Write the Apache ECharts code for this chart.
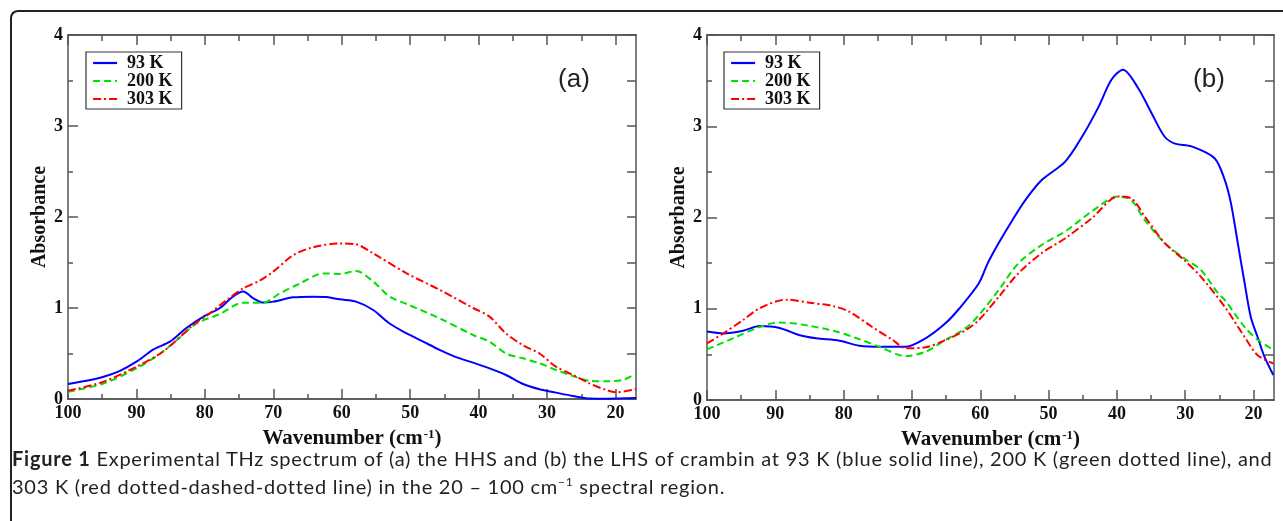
<!DOCTYPE html>
<html>
<head>
<meta charset="utf-8">
<script src="https://cdn.jsdelivr.net/npm/echarts@6/dist/echarts.min.js"></script>
<style>
  body { margin: 0; background: #fff; }
  #wrap { position: relative; width: 1283px; height: 521px; overflow: hidden; }
  #chart { position: absolute; left: 0; top: 0; width: 1283px; height: 521px; }
  #frame { position: absolute; left: 10px; top: 10px; width: 1400px; height: 700px;
           border-top: 2px solid #222; border-left: 2px solid #222; border-top-left-radius: 8px; }
  #caption { position: absolute; left: 12px; top: 444px; font-family: Lato, sans-serif; font-size: 20px;
             letter-spacing: 0.75px; line-height: 28px; color: #231f20; white-space: nowrap; }
  #caption b { font-weight: bold; }
  #caption sup { font-size: 12px; line-height: 0; vertical-align: 8px; }
</style>
</head>
<body>
<div id="wrap">
  <div id="frame"></div>
  <div id="chart"></div>
  <div id="caption"><b>Figure 1</b> Experimental THz spectrum of (a) the HHS and (b) the LHS of crambin at 93 K (blue solid line), 200 K (green dotted line), and<br>303 K (red dotted-dashed-dotted line) in the 20 &ndash; 100 cm<sup>&minus;1</sup> spectral region.</div>
</div>
<script>
// wavenumber (cm-1) and absorbance

// (a) HHS
let hhsWn93 = [100, 97.3, 94.8, 92.4, 90, 87.5, 85.1, 82.7, 80.2, 77.8, 75.9, 74.4, 72.9, 71.5, 70, 67.1, 64.2, 62.2, 60.3, 57.9, 55.4, 53.0, 50.5, 48.1, 45.7, 43.2, 40.8, 38.4, 36.0, 33.5, 31.1, 28.7, 26.2, 23.8, 21.4, 17];
let hhsAbs93 = [0.165, 0.20, 0.245, 0.31, 0.41, 0.545, 0.63, 0.78, 0.905, 1.0, 1.125, 1.18, 1.106, 1.06, 1.07, 1.117, 1.125, 1.12, 1.095, 1.07, 0.978, 0.83, 0.72, 0.63, 0.54, 0.457, 0.40, 0.337, 0.264, 0.165, 0.107, 0.07, 0.033, 0.005, 0.003, 0.01];

let hhsWn200 = [100, 94.8, 90, 86.5, 84.1, 81.2, 77.8, 74.4, 71.5, 69.1, 66.1, 62.7, 60.3, 57.9, 55.4, 53.0, 50.5, 45.7, 40.8, 38.4, 36.0, 33.5, 31.1, 28.7, 26.2, 23.8, 21.4, 18.9, 17];
let hhsAbs200 = [0.08, 0.17, 0.337, 0.50, 0.648, 0.83, 0.934, 1.058, 1.058, 1.16, 1.27, 1.38, 1.374, 1.407, 1.29, 1.125, 1.044, 0.887, 0.703, 0.63, 0.50, 0.447, 0.392, 0.319, 0.253, 0.20, 0.195, 0.209, 0.28];

let hhsWn303 = [100, 94.8, 90, 86.5, 84.1, 81.7, 79.3, 76.8, 74.4, 72, 70, 67.1, 64.2, 60.3, 57.9, 55.4, 50.5, 45.7, 40.8, 38.4, 36.0, 33.5, 31.1, 28.7, 26.2, 23.8, 21.4, 19.9, 17];
let hhsAbs303 = [0.09, 0.19, 0.355, 0.50, 0.648, 0.813, 0.94, 1.088, 1.216, 1.30, 1.40, 1.58, 1.667, 1.71, 1.70, 1.60, 1.38, 1.20, 1.0, 0.905, 0.72, 0.59, 0.50, 0.355, 0.264, 0.172, 0.10, 0.074, 0.107];

// (b) LHS
let lhsWn93 = [100, 97.6, 94.7, 92.3, 89.4, 86.4, 84, 80.6, 77.7, 74.3, 70.9, 68, 65.1, 63.1, 60.2, 58.9, 57.3, 55.3, 53.4, 51, 47.6, 45.1, 42.7, 40.8, 39.1, 36.9, 34.9, 33, 31.5, 29.1, 25.7, 24.2, 23.3, 22.3, 21.3, 20.4, 19.4, 18.4, 17.1];
let lhsAbs93 = [0.75, 0.73, 0.76, 0.81, 0.79, 0.71, 0.676, 0.65, 0.595, 0.584, 0.584, 0.676, 0.84, 1.0, 1.28, 1.50, 1.72, 1.97, 2.19, 2.41, 2.61, 2.885, 3.21, 3.51, 3.62, 3.42, 3.14, 2.885, 2.81, 2.78, 2.65, 2.41, 2.155, 1.72, 1.28, 0.91, 0.69, 0.475, 0.274];

let lhsWn200 = [100, 96.2, 92.3, 89.4, 86.4, 81.6, 78.2, 74.8, 70.9, 68, 65.1, 62.1, 60.2, 57.3, 54.4, 51, 47.6, 43.7, 39.8, 37.9, 35.9, 33, 30.1, 27.7, 25.2, 24.2, 21.3, 19.4, 17.1];
let lhsAbs200 = [0.555, 0.676, 0.80, 0.85, 0.83, 0.76, 0.68, 0.584, 0.48, 0.53, 0.657, 0.79, 0.93, 1.205, 1.50, 1.70, 1.845, 2.065, 2.23, 2.19, 1.97, 1.72, 1.55, 1.425, 1.17, 1.096, 0.80, 0.66, 0.55];

let lhsWn303 = [100, 97.6, 94.7, 92.3, 88.4, 85, 81.6, 79.2, 75.8, 72.8, 70.9, 68, 65.1, 62.1, 60.2, 57.3, 54.4, 51, 47.6, 43.7, 39.8, 37.9, 35.9, 33, 30.1, 27.7, 24.2, 21.3, 19.4, 17.1];
let lhsAbs303 = [0.62, 0.73, 0.877, 1.005, 1.10, 1.066, 1.03, 0.968, 0.80, 0.657, 0.567, 0.578, 0.657, 0.767, 0.877, 1.13, 1.39, 1.61, 1.77, 1.99, 2.23, 2.21, 2.01, 1.72, 1.53, 1.35, 1.02, 0.69, 0.49, 0.40];

let legendNames = ['93 K', '200 K', '303 K'];
let xMajor = [20, 30, 40, 50, 60, 70, 80, 90, 100];
let xMinor = [25, 35, 45, 55, 65, 75, 85, 95];

const frameColor = '#555';
const serif = '"Liberation Serif", "Times New Roman", serif';
const lineTick = { color: frameColor, width: 1.5 };

const pts = (x, y) => x.map((v, i) => [v, y[i]]);

// 4 x axes per panel: bottom major/minor, top major/minor
function xAxes(g) {
  const base = {
    type: 'value', gridIndex: g, min: 17, max: 100, inverse: true,
    splitLine: { show: false },
    axisLine: { show: true, lineStyle: { color: frameColor, width: 1.5 } },
    axisLabel: { show: false }
  };
  return [
    Object.assign({}, base, {
      position: 'bottom',
      axisTick: { inside: true, length: 10, customValues: xMajor, lineStyle: lineTick },
      axisLabel: { show: true, customValues: xMajor, margin: 5, fontFamily: serif, fontWeight: 'bold', fontSize: 18, color: '#111' },
      name: '{n|Wavenumber (cm}{s|-1}{n|)}',
      nameLocation: 'middle',
      nameGap: 29,
      nameTextStyle: {
        rich: {
          n: { fontFamily: serif, fontWeight: 'bold', fontSize: 21, color: '#111' },
          s: { fontFamily: serif, fontWeight: 'bold', fontSize: 13, color: '#111', verticalAlign: 'top', padding: [0, 0, 8, 1] }
        }
      }
    }),
    Object.assign({}, base, { position: 'bottom', axisTick: { inside: true, length: 5, customValues: xMinor, lineStyle: lineTick } }),
    Object.assign({}, base, { position: 'top', axisTick: { inside: true, length: 10, customValues: xMajor, lineStyle: lineTick } }),
    Object.assign({}, base, { position: 'top', axisTick: { inside: true, length: 6, customValues: xMinor, lineStyle: lineTick } })
  ];
}

function yAxes(g) {
  const base = {
    type: 'value', gridIndex: g, min: 0, max: 4,
    splitLine: { show: false },
    axisLine: { show: true, lineStyle: { color: frameColor, width: 1.5 } }
  };
  return [
    Object.assign({}, base, {
      position: 'left', interval: 1,
      axisTick: { inside: true, length: 10, lineStyle: lineTick },
      minorTick: { show: true, splitNumber: 2, length: 5, lineStyle: lineTick },
      axisLabel: { margin: 5, fontFamily: serif, fontWeight: 'bold', fontSize: 18, color: '#111', showMinLabel: true, showMaxLabel: true },
      name: 'Absorbance', nameLocation: 'middle', nameGap: 14,
      nameTextStyle: { fontFamily: serif, fontWeight: 'bold', fontSize: 20, color: '#111' }
    }),
    Object.assign({}, base, {
      position: 'right', interval: 0.5,
      axisTick: { inside: true, length: 9, lineStyle: lineTick },
      axisLabel: { show: false }
    })
  ];
}

function line(name, g, data, color, dash) {
  return {
    name: name, type: 'line', xAxisIndex: g * 4, yAxisIndex: g * 2,
    data: data, symbol: 'none', smooth: 0.3, clip: true,
    lineStyle: { color: color, width: 2, type: dash },
    itemStyle: { color: color }
  };
}

function legend(left) {
  return {
    left: left, top: 52, orient: 'vertical', data: legendNames, selectedMode: false,
    itemWidth: 24, itemHeight: 14, itemGap: 0, padding: [2, 9, 1, 6],
    borderColor: '#333', borderWidth: 1.2, backgroundColor: '#fff',
    itemStyle: { opacity: 0, borderWidth: 0 },
    lineStyle: { width: 2.2 },
    textStyle: { fontFamily: serif, fontWeight: 'bold', fontSize: 18, color: '#111', padding: [0, 0, 0, 5], lineHeight: 16 }
  };
}

const blue = '#0000ff', green = '#00e000', red = '#ff0000';
const dashG = [7, 4], dashR = [8, 3, 2, 3];

var myChart = echarts.init(document.getElementById('chart'));
myChart.setOption({
  animation: false,
  grid: [
    { left: 68, top: 35, width: 568, height: 364 },
    { left: 707, top: 35, width: 567, height: 365 }
  ],
  xAxis: xAxes(0).concat(xAxes(1)),
  yAxis: yAxes(0).concat(yAxes(1)),
  legend: [legend(86), legend(724)],
  graphic: [
    { type: 'text', x: 574, y: 80, style: { text: '(a)', fontFamily: '"Liberation Sans", Arial, sans-serif', fontSize: 26, fill: '#222', align: 'center', verticalAlign: 'middle' } },
    { type: 'text', x: 1209, y: 80, style: { text: '(b)', fontFamily: '"Liberation Sans", Arial, sans-serif', fontSize: 26, fill: '#222', align: 'center', verticalAlign: 'middle' } }
  ],
  series: [
    line('93 K', 0, pts(hhsWn93, hhsAbs93), blue, 'solid'),
    line('200 K', 0, pts(hhsWn200, hhsAbs200), green, dashG),
    line('303 K', 0, pts(hhsWn303, hhsAbs303), red, dashR),
    line('93 K', 1, pts(lhsWn93, lhsAbs93), blue, 'solid'),
    line('200 K', 1, pts(lhsWn200, lhsAbs200), green, dashG),
    line('303 K', 1, pts(lhsWn303, lhsAbs303), red, dashR)
  ]
});
</script>
</body>
</html>
